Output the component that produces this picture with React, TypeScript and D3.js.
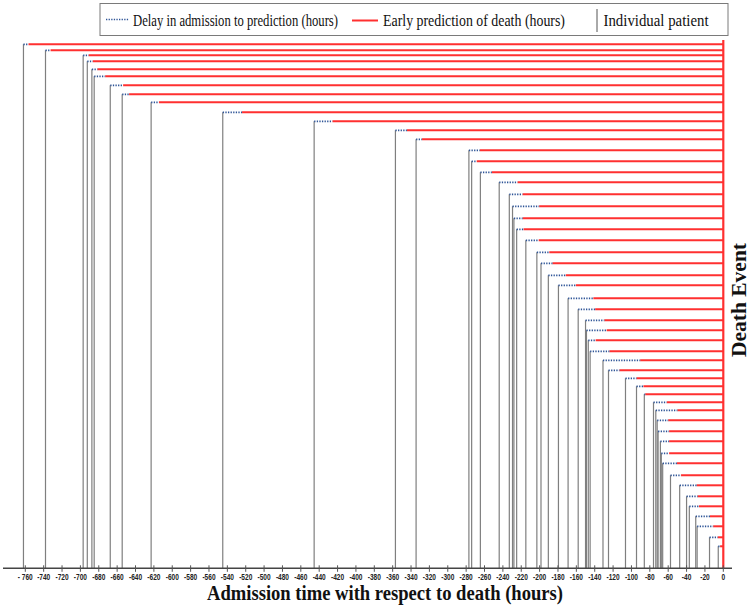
import React from "react";
import * as d3 from "d3";

// Admission time (hours before death) for each patient
const admissionHours = [-762, -738, -697, -692.5, -687.5, -685, -667.5, -654.5, -623, -545, -445.5, -357, -334.5, -277, -274, -264.5, -244, -233, -229.5, -228, -225, -215, -203, -198.5, -190.5, -179.5, -169, -158, -150, -149, -147, -145, -131, -125, -106.5, -94.5, -86, -76, -73.5, -72, -71, -68.5, -67.5, -66, -57.5, -47.5, -40, -37, -30, -28.5, -15, -5.5];
// Time of prediction of death (hours before death)
const predictionHours = [-756.5, -732.5, -691, -686.5, -681.5, -673, -653.5, -647, -614.5, -524, -425.5, -344.5, -328, -265, -268.5, -252, -224, -218.5, -200.5, -218.5, -217.5, -201, -189.5, -186, -171.5, -160.5, -141.5, -139.5, -129.5, -127, -139, -124, -90.5, -113, -94.5, -87, -85, -61.5, -50, -60, -59, -59, -59, -50.5, -46, -29, -28, -26.5, -14.5, -11, -6, -3.5];
// Vertical level of each patient line (arbitrary units)
const patientLevel = [524, 518, 513, 507, 499, 492, 483, 474, 466, 456, 447, 438, 429, 418, 407, 396, 386, 374, 362, 350, 339, 328, 316, 305, 293, 283, 270, 259, 248, 238, 228, 217, 208, 198, 190, 182, 174, 166, 158, 148, 137, 127, 115, 105, 93, 83, 72, 62, 52, 42, 31, 22];

const tickValues = [-760, -740, -720, -700, -680, -660, -640, -620, -600, -580, -560, -540, -520, -500, -480, -460, -440, -420, -400, -380, -360, -340, -320, -300, -280, -260, -240, -220, -200, -180, -160, -140, -120, -100, -80, -60, -40, -20, 0];
const tickLabels = ["- 760", "-740", "-720", "-700", "-680", "-660", "-640", "-620", "-600", "-580", "-560", "-540", "-520", "-500", "-480", "-460", "-440", "-420", "-400", "-380", "-360", "-340", "-320", "-300", "-280", "-260", "-240", "-220", "-200", "-180", "-160", "-140", "-120", "-100", "-80", "-60", "-40", "-20", "0"];

const legendLabels = ["Delay in admission to prediction (hours)", "Early prediction of death (hours)", "Individual patient"];
const xTitle = "Admission time with respect to death (hours)";
const yTitle = "Death Event";

const RED = "#ff3030";
const BLUE = "#2f5597";
const GRAY = "#7f7f7f";
const SERIF = "'Liberation Serif', 'Times New Roman', serif";
const SANS = "'Liberation Sans', Arial, sans-serif";

export default function App() {
  const W = 749, H = 606;
  const x = d3.scaleLinear().domain([-760, 0]).range([25.3, 723.3]);
  const y = d3.scaleLinear().domain([0, 528]).range([568.3, 40.3]);
  const axisY = y(0);
  const x0 = x(0);

  const patients = admissionHours.map((a, i) => ({ a, p: predictionHours[i], l: patientLevel[i] }));

  return (
    <svg width={W} height={H} style={{ position: "absolute", left: 0, top: 0, background: "#fff" }} xmlns="http://www.w3.org/2000/svg">
      <rect x={0} y={0} width={W} height={H} fill="#fff" />
      {/* Legend */}
      <g>
        <rect x={100} y={3.5} width={628} height={32} fill="#fff" stroke="#7a7a7a" strokeWidth={1} />
        <line x1={106} x2={129} y1={19.5} y2={19.5} stroke={BLUE} strokeWidth={1.7} strokeDasharray="1.3 1.3" />
        <text transform="translate(133,26) scale(1,1.28)" fontFamily={SERIF} fontSize={13} textLength={205} lengthAdjust="spacingAndGlyphs" fill="#111">{legendLabels[0]}</text>
        <line x1={352} x2={378} y1={20.5} y2={20.5} stroke={RED} strokeWidth={2} />
        <text transform="translate(383,26) scale(1,1.28)" fontFamily={SERIF} fontSize={13} textLength={182} lengthAdjust="spacingAndGlyphs" fill="#111">{legendLabels[1]}</text>
        <line x1={597} x2={597} y1={9} y2={32} stroke="#555" strokeWidth={1} />
        <text transform="translate(603.5,26) scale(1,1.28)" fontFamily={SERIF} fontSize={13} textLength={105} lengthAdjust="spacingAndGlyphs" fill="#111">{legendLabels[2]}</text>
      </g>

      {/* Patient vertical lines */}
      {patients.map((d, i) => (
        <line key={"v" + i} x1={x(d.a)} x2={x(d.a)} y1={axisY} y2={y(d.l)} stroke={GRAY} strokeWidth={1.2} />
      ))}
      {/* Red early prediction lines */}
      {patients.map((d, i) => (
        <line key={"r" + i} x1={x(d.p)} x2={x0} y1={y(d.l)} y2={y(d.l)} stroke={RED} strokeWidth={2} />
      ))}
      {/* Blue dotted delay */}
      {patients.map((d, i) => (
        <line key={"b" + i} x1={x(d.a)} x2={x(d.p)} y1={y(d.l)} y2={y(d.l)} stroke={BLUE} strokeWidth={1.7} strokeDasharray="1.3 1.3" />
      ))}

      {/* Death event line */}
      <line x1={x0} x2={x0} y1={40} y2={axisY} stroke={RED} strokeWidth={2.2} />

      {/* X axis */}
      <line x1={3} x2={732} y1={axisY} y2={axisY} stroke="#444" strokeWidth={1.4} />
      {tickValues.map((t, i) => (
        <g key={"t" + i}>
          <line x1={x(t)} x2={x(t)} y1={axisY - 3} y2={axisY + 3.5} stroke="#555" strokeWidth={1} />
          <text transform={`translate(${x(t)},579.5) scale(0.8,1)`} textAnchor="middle" fontFamily={SANS} fontWeight="bold" fontSize={8.2} fill="#222">{tickLabels[i]}</text>
        </g>
      ))}
      <text x={207} y={599.5} fontFamily={SERIF} fontWeight="bold" fontSize={20.5} textLength={356} lengthAdjust="spacingAndGlyphs" fill="#111">{xTitle}</text>

      {/* Death Event label */}
      <text transform={`translate(745.5,300) rotate(-90)`} textAnchor="middle" fontFamily={SERIF} fontWeight="bold" fontSize={21.5} fill="#111">{yTitle}</text>
    </svg>
  );
}
